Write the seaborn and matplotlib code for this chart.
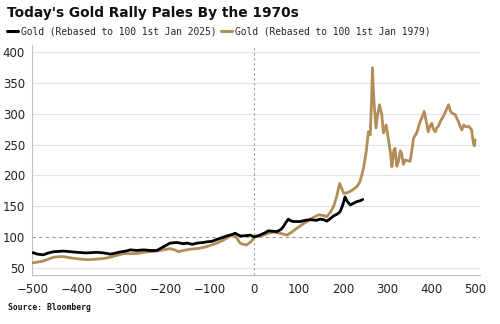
import numpy as np
import pandas as pd
import matplotlib
matplotlib.use("Agg")
import matplotlib.pyplot as plt
import seaborn as sns

# Days relative to 1st Jan
x_2025 = [-500, -490, -476, -465, -453, -431, -415, -400, -380, -355, -340, -325, -312, -302, -290,
          -280, -265, -250, -235, -220, -205, -190, -175, -160, -152, -140, -129, -115, -107, -95,
          -84, -72, -62, -50, -43, -38, -32, -20, -9, 0, 13, 25, 32, 51, 60, 66, 72, 77, 83, 89,
          104, 115, 126, 140, 149, 157, 164, 172, 179, 187, 194, 200, 205, 210, 217, 225, 232, 240, 245]
y_2025 = [74.5, 72, 71, 74, 76, 77, 76, 75, 74, 75, 74, 72, 74, 75.7, 77,
          79, 78, 79, 78, 78, 84, 90, 91, 89, 90, 88, 90, 91, 92, 93,
          96, 99, 101.6, 104, 106, 104, 101.6, 102, 103, 100, 103, 107, 110, 108.7, 112, 117, 124, 129, 126, 125,
          125, 127, 128, 127, 129, 128, 125.6, 130, 134, 137, 141, 152, 165, 158, 152, 155, 157.5, 159, 161]

x_1979 = [-500, -490, -476, -465, -453, -440, -431, -415, -393, -375, -355, -340, -325, -310, -295,
          -280, -265, -250, -235, -220, -205, -190, -180, -171, -160, -145, -130, -114, -100, -84,
          -72, -62, -55, -47, -40, -32, -25, -17, -8, -2, 0, 10, 21, 32, 44, 58, 74, 85, 96, 108,
          119, 132, 145, 155, 164, 172, 179, 186, 190, 193, 197, 202, 210, 217, 225, 232, 239, 247,
          253, 258, 262, 265, 267, 269, 271, 275, 279, 283, 288, 292, 298, 305, 308, 311, 315, 318,
          322, 326, 330, 333, 337, 341, 346, 352, 356, 360, 367, 375, 380, 384, 388, 393, 397, 401,
          405, 409, 413, 416, 422, 427, 433, 439, 443, 446, 450, 454, 458, 461, 465, 469, 473, 476,
          480, 484, 488, 491, 495, 497, 499]
y_1979 = [58, 59, 61, 64, 67, 68, 68, 66, 64, 63, 64, 65, 67, 70, 73,
          73, 73, 75, 76, 77, 79, 81, 79, 76, 78, 80, 81, 83, 86, 90,
          94, 98, 101, 103.5, 99, 90, 88, 87, 92, 97, 100, 101, 103, 106, 108, 106, 103, 108, 114, 120,
          125, 131, 136, 135, 133, 140, 149, 165, 178, 187, 180, 171, 172, 174, 178, 182, 190, 212,
          239, 271, 266, 320, 375, 340, 315, 277, 300, 315, 299, 269, 282, 250, 235, 214, 240, 244,
          215, 223, 240, 236, 218, 225, 224, 223, 240, 261, 269, 288, 296, 304, 290, 271, 280, 285,
          275, 271, 278, 280, 290, 296, 305, 315, 305, 302, 300, 299, 292, 288, 280, 274, 282, 280,
          279, 280, 277, 274, 253, 248, 258]

labels = ["Gold (Rebased to 100 1st Jan 2025)", "Gold (Rebased to 100 1st Jan 1979)"]
x_ticks = [-500, -400, -300, -200, -100, 0, 100, 200, 300, 400, 500]
y_ticks = [50, 100, 150, 200, 250, 300, 350, 400]

df = pd.concat([
    pd.DataFrame({"day": x_2025, "value": y_2025, "series": labels[0]}),
    pd.DataFrame({"day": x_1979, "value": y_1979, "series": labels[1]}),
], ignore_index=True)

sns.set_style("white")
fig = plt.figure(figsize=(5.0, 3.24), dpi=100)
ax = fig.add_axes([0.064, 0.151, 0.896, 0.71])

for yv in y_ticks:
    if yv == 100:
        ax.axhline(yv, color="#9a9a9a", lw=0.8, ls=(0, (3, 3)), zorder=1)
    else:
        ax.axhline(yv, color="#e2e2e2", lw=0.8, zorder=0)
ax.axvline(0, color="#9a9a9a", lw=0.8, ls=(0, (2, 2.5)), zorder=1)

gold_col = "#b38d58"
palette = {labels[0]: "#000000", labels[1]: gold_col}
sns.lineplot(data=df, x="day", y="value", hue="series", palette=palette,
             hue_order=[labels[1], labels[0]],
             sort=False, estimator=None, lw=2.0, ax=ax, legend=False, zorder=3)
for line in ax.lines:
    if matplotlib.colors.to_hex(line.get_color()) == "#000000":
        line.set_zorder(4)

ax.set_xlim(-502, 510)
ax.set_ylim(38, 412)
ax.set_xticks(x_ticks)
ax.set_yticks(y_ticks)
ax.set_xlabel("")
ax.set_ylabel("")
for s in ["top", "right"]:
    ax.spines[s].set_visible(False)
ax.spines["left"].set_color("#c0c0c0")
ax.spines["bottom"].set_color("#c0c0c0")
ax.spines["left"].set_linewidth(0.8)
ax.spines["bottom"].set_linewidth(0.8)
ax.tick_params(axis="y", length=0, pad=5, labelsize=8.5, labelcolor="#222222")
ax.tick_params(axis="x", length=3, width=0.8, color="#c0c0c0", pad=3, labelsize=8.5, labelcolor="#222222")

fig.text(0.014, 0.959, "Today's Gold Rally Pales By the 1970s", fontsize=9.9,
         fontweight="bold", ha="left", va="center", color="#111111")

from matplotlib.lines import Line2D
handles = [Line2D([], [], color="#000000", lw=2.2), Line2D([], [], color=gold_col, lw=2.2)]
fig.legend(handles, labels, loc="center left", bbox_to_anchor=(0.0, 0.903), ncol=2,
           frameon=False, handlelength=1.2, handletextpad=0.25, columnspacing=0.5,
           prop={"family": "DejaVu Sans Mono", "size": 6.9}, borderaxespad=0.3)

fig.text(0.016, 0.052, "Source: Bloomberg", fontsize=5.8, fontweight="bold",
         family="DejaVu Sans Mono", ha="left", va="center", color="#111111")

fig.savefig("out.png", dpi=100, facecolor="white")
